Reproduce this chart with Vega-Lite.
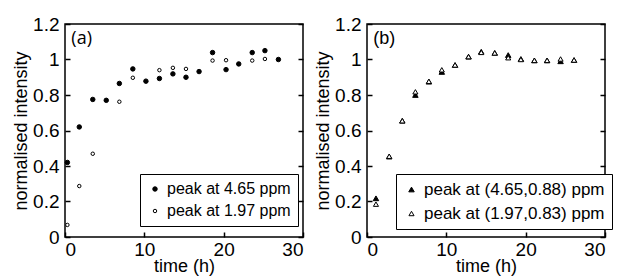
{
  "$schema": "https://vega.github.io/schema/vega-lite/v6.json",
  "autosize": {"type": "pad"},
  "padding": {"left": 11, "top": 14, "right": 0, "bottom": 0},
  "background": "white",
  "config": {
    "font": "Liberation Sans",
    "view": {"stroke": "black", "strokeWidth": 1.5},
    "axis": {
      "grid": false,
      "domain": false,
      "ticks": true,
      "zindex": 2,
      "tickColor": "black",
      "tickOpacity": 1,
      "tickWidth": 1.5,
      "tickSize": 5,
      "offset": -5,
      "labelColor": "black",
      "labelFont": "Liberation Sans",
      "labelFontSize": 19,
      "titleFont": "Liberation Sans",
      "titleFontSize": 18,
      "titleFontWeight": "normal",
      "titleColor": "black"
    },
    "legend": {
      "fillColor": "white",
      "strokeColor": "black",
      "padding": 7,
      "labelFont": "Liberation Sans",
      "labelColor": "black",
      "labelFontSize": 16,
      "labelLimit": 400,
      "rowPadding": 6,
      "symbolStrokeWidth": 1
    }
  },
  "datasets": {
    "a": [
      {"t": 0.3, "v": 0.42, "s": "peak at 4.65 ppm"},
      {"t": 1.8, "v": 0.62, "s": "peak at 4.65 ppm"},
      {"t": 3.5, "v": 0.775, "s": "peak at 4.65 ppm"},
      {"t": 5.2, "v": 0.77, "s": "peak at 4.65 ppm"},
      {"t": 6.85, "v": 0.865, "s": "peak at 4.65 ppm"},
      {"t": 8.55, "v": 0.947, "s": "peak at 4.65 ppm"},
      {"t": 10.2, "v": 0.878, "s": "peak at 4.65 ppm"},
      {"t": 11.9, "v": 0.893, "s": "peak at 4.65 ppm"},
      {"t": 13.6, "v": 0.919, "s": "peak at 4.65 ppm"},
      {"t": 15.25, "v": 0.9, "s": "peak at 4.65 ppm"},
      {"t": 16.9, "v": 0.932, "s": "peak at 4.65 ppm"},
      {"t": 18.6, "v": 1.039, "s": "peak at 4.65 ppm"},
      {"t": 20.3, "v": 0.943, "s": "peak at 4.65 ppm"},
      {"t": 21.9, "v": 0.975, "s": "peak at 4.65 ppm"},
      {"t": 23.6, "v": 1.039, "s": "peak at 4.65 ppm"},
      {"t": 25.2, "v": 1.05, "s": "peak at 4.65 ppm"},
      {"t": 26.9, "v": 1.0, "s": "peak at 4.65 ppm"},
      {"t": 0.3, "v": 0.068, "s": "peak at 1.97 ppm"},
      {"t": 1.8, "v": 0.287, "s": "peak at 1.97 ppm"},
      {"t": 3.5, "v": 0.469, "s": "peak at 1.97 ppm"},
      {"t": 6.85, "v": 0.762, "s": "peak at 1.97 ppm"},
      {"t": 8.55, "v": 0.897, "s": "peak at 1.97 ppm"},
      {"t": 11.9, "v": 0.94, "s": "peak at 1.97 ppm"},
      {"t": 13.6, "v": 0.953, "s": "peak at 1.97 ppm"},
      {"t": 15.25, "v": 0.947, "s": "peak at 1.97 ppm"},
      {"t": 18.6, "v": 0.994, "s": "peak at 1.97 ppm"},
      {"t": 20.3, "v": 0.996, "s": "peak at 1.97 ppm"},
      {"t": 23.6, "v": 0.994, "s": "peak at 1.97 ppm"},
      {"t": 25.2, "v": 1.003, "s": "peak at 1.97 ppm"}
    ],
    "b": [
      {"t": 1.13, "v": 0.218, "s": "peak at (4.65,0.88) ppm"},
      {"t": 2.8, "v": 0.453, "s": "peak at (4.65,0.88) ppm"},
      {"t": 4.45, "v": 0.655, "s": "peak at (4.65,0.88) ppm"},
      {"t": 6.1, "v": 0.8, "s": "peak at (4.65,0.88) ppm"},
      {"t": 7.8, "v": 0.875, "s": "peak at (4.65,0.88) ppm"},
      {"t": 9.43, "v": 0.93, "s": "peak at (4.65,0.88) ppm"},
      {"t": 11.1, "v": 0.969, "s": "peak at (4.65,0.88) ppm"},
      {"t": 12.8, "v": 1.016, "s": "peak at (4.65,0.88) ppm"},
      {"t": 14.4, "v": 1.044, "s": "peak at (4.65,0.88) ppm"},
      {"t": 16.1, "v": 1.037, "s": "peak at (4.65,0.88) ppm"},
      {"t": 17.8, "v": 1.025, "s": "peak at (4.65,0.88) ppm"},
      {"t": 19.4, "v": 1.003, "s": "peak at (4.65,0.88) ppm"},
      {"t": 21.1, "v": 0.995, "s": "peak at (4.65,0.88) ppm"},
      {"t": 22.7, "v": 0.995, "s": "peak at (4.65,0.88) ppm"},
      {"t": 24.4, "v": 0.99, "s": "peak at (4.65,0.88) ppm"},
      {"t": 26.1, "v": 0.997, "s": "peak at (4.65,0.88) ppm"},
      {"t": 1.13, "v": 0.185, "s": "peak at (1.97,0.83) ppm"},
      {"t": 2.8, "v": 0.455, "s": "peak at (1.97,0.83) ppm"},
      {"t": 4.45, "v": 0.655, "s": "peak at (1.97,0.83) ppm"},
      {"t": 6.1, "v": 0.818, "s": "peak at (1.97,0.83) ppm"},
      {"t": 7.8, "v": 0.877, "s": "peak at (1.97,0.83) ppm"},
      {"t": 9.43, "v": 0.942, "s": "peak at (1.97,0.83) ppm"},
      {"t": 11.1, "v": 0.969, "s": "peak at (1.97,0.83) ppm"},
      {"t": 12.8, "v": 1.016, "s": "peak at (1.97,0.83) ppm"},
      {"t": 14.4, "v": 1.04, "s": "peak at (1.97,0.83) ppm"},
      {"t": 16.1, "v": 1.037, "s": "peak at (1.97,0.83) ppm"},
      {"t": 17.8, "v": 1.01, "s": "peak at (1.97,0.83) ppm"},
      {"t": 19.4, "v": 1.0, "s": "peak at (1.97,0.83) ppm"},
      {"t": 21.1, "v": 0.995, "s": "peak at (1.97,0.83) ppm"},
      {"t": 22.7, "v": 0.995, "s": "peak at (1.97,0.83) ppm"},
      {"t": 24.4, "v": 1.003, "s": "peak at (1.97,0.83) ppm"},
      {"t": 26.1, "v": 0.997, "s": "peak at (1.97,0.83) ppm"}
    ]
  },
  "spacing": 8,
  "hconcat": [
    {
      "width": 238,
      "height": 213,
      "resolve": {"axis": {"y": "independent"}},
      "layer": [
        {
          "data": {"name": "a"},
          "mark": {"type": "point", "filled": true, "strokeWidth": 1, "opacity": 1},
          "encoding": {
            "x": {"field": "t", "type": "quantitative", "scale": {"domain": [0, 30], "nice": false, "zero": false},
                  "axis": {"values": [0, 5, 10, 15, 20, 25, 30], "title": "time (h)", "titlePadding": -2, "labelPadding": 3}},
            "y": {"field": "v", "type": "quantitative", "scale": {"domain": [0, 1.2], "nice": false},
                  "axis": {"values": [0, 0.2, 0.4, 0.6, 0.8, 1, 1.2], "format": "~g", "title": "normalised intensity", "titlePadding": 2, "labelPadding": 6}},
            "stroke": {"field": "s", "type": "nominal", "title": null,
                       "scale": {"domain": ["peak at 4.65 ppm", "peak at 1.97 ppm"], "range": ["black", "black"]}},
            "fill": {"field": "s", "type": "nominal", "title": null,
                     "scale": {"domain": ["peak at 4.65 ppm", "peak at 1.97 ppm"], "range": ["black", "white"]},
                     "legend": {"orient": "none", "legendX": 75, "legendY": 150}},
            "shape": {"field": "s", "type": "nominal", "title": null,
                      "scale": {"domain": ["peak at 4.65 ppm", "peak at 1.97 ppm"], "range": ["circle", "circle"]}},
            "size": {"field": "s", "type": "nominal", "title": null,
                     "scale": {"domain": ["peak at 4.65 ppm", "peak at 1.97 ppm"], "range": [20, 12]}}
          }
        },
        {
          "data": {"name": "a"},
          "mark": {"type": "point", "opacity": 0},
          "encoding": {
            "x": {"field": "t", "type": "quantitative"},
            "y": {"field": "v", "type": "quantitative",
                  "axis": {"orient": "right", "values": [0, 0.2, 0.4, 0.6, 0.8, 1, 1.2], "labels": false, "title": null}}
          }
        },
        {
          "data": {"values": [{"label": "(a)"}]},
          "mark": {"type": "text", "align": "left", "baseline": "alphabetic", "fontSize": 18, "font": "Open Sans", "color": "black"},
          "encoding": {
            "text": {"field": "label"},
            "x": {"datum": 0.8, "type": "quantitative"},
            "y": {"datum": 1.09, "type": "quantitative", "axis": null}
          }
        }
      ]
    },
    {
      "width": 238,
      "height": 213,
      "resolve": {"axis": {"y": "independent"}},
      "layer": [
        {
          "data": {"name": "b"},
          "mark": {"type": "point", "filled": true, "strokeWidth": 1, "opacity": 1},
          "encoding": {
            "x": {"field": "t", "type": "quantitative", "scale": {"domain": [0, 30], "nice": false, "zero": false},
                  "axis": {"values": [0, 5, 10, 15, 20, 25, 30], "title": "time (h)", "titlePadding": -2, "labelPadding": 3}},
            "y": {"field": "v", "type": "quantitative", "scale": {"domain": [0, 1.2], "nice": false},
                  "axis": {"values": [0, 0.2, 0.4, 0.6, 0.8, 1, 1.2], "format": "~g", "title": "normalised intensity", "titlePadding": 2, "labelPadding": 6}},
            "stroke": {"field": "s", "type": "nominal", "title": null,
                       "scale": {"domain": ["peak at (4.65,0.88) ppm", "peak at (1.97,0.83) ppm"], "range": ["black", "black"]}},
            "fill": {"field": "s", "type": "nominal", "title": null,
                     "scale": {"domain": ["peak at (4.65,0.88) ppm", "peak at (1.97,0.83) ppm"], "range": ["black", "white"]},
                     "legend": {"orient": "none", "legendX": 29, "legendY": 150, "labelFontSize": 17}},
            "shape": {"field": "s", "type": "nominal", "title": null,
                      "scale": {"domain": ["peak at (4.65,0.88) ppm", "peak at (1.97,0.83) ppm"], "range": ["triangle-up", "triangle-up"]}},
            "size": {"field": "s", "type": "nominal", "title": null,
                     "scale": {"domain": ["peak at (4.65,0.88) ppm", "peak at (1.97,0.83) ppm"], "range": [30, 26]}}
          }
        },
        {
          "data": {"name": "b"},
          "mark": {"type": "point", "opacity": 0},
          "encoding": {
            "x": {"field": "t", "type": "quantitative"},
            "y": {"field": "v", "type": "quantitative",
                  "axis": {"orient": "right", "values": [0, 0.2, 0.4, 0.6, 0.8, 1, 1.2], "labels": false, "title": null}}
          }
        },
        {
          "data": {"values": [{"label": "(b)"}]},
          "mark": {"type": "text", "align": "left", "baseline": "alphabetic", "fontSize": 18, "font": "Liberation Sans", "color": "black"},
          "encoding": {
            "text": {"field": "label"},
            "x": {"datum": 0.8, "type": "quantitative"},
            "y": {"datum": 1.09, "type": "quantitative", "axis": null}
          }
        }
      ]
    }
  ],
  "resolve": {"scale": {"fill": "independent", "shape": "independent", "size": "independent", "stroke": "independent"}, "legend": {"fill": "independent", "shape": "independent", "size": "independent", "stroke": "independent"}}
}
